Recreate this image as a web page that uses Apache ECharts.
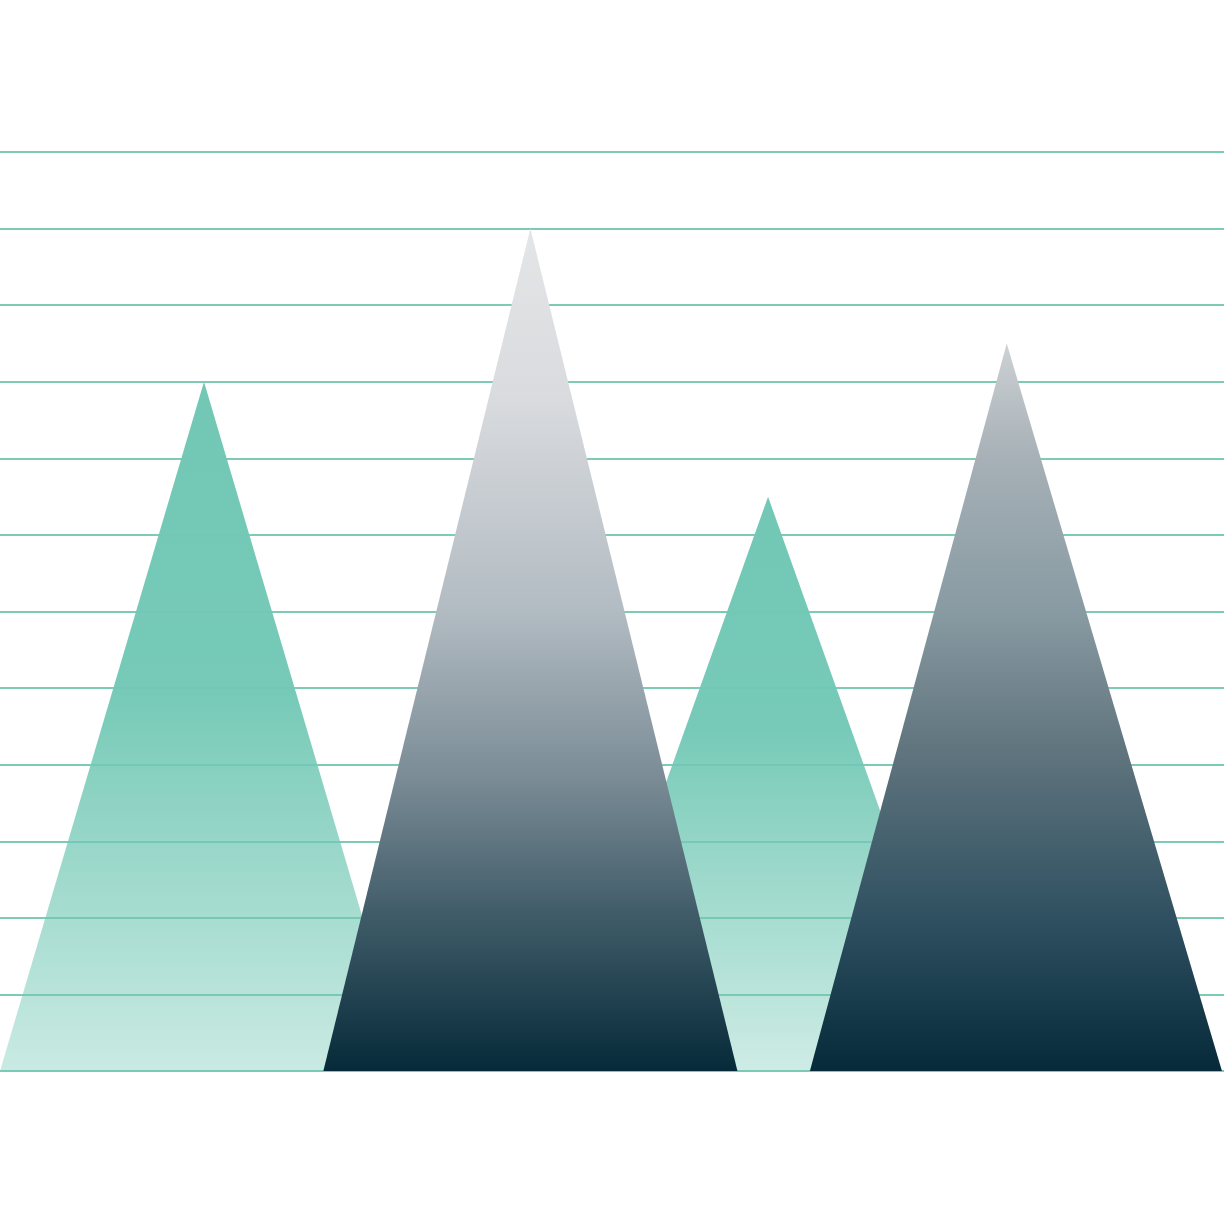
<!DOCTYPE html>
<html>
<head>
<meta charset="utf-8">
<script src="https://cdn.jsdelivr.net/npm/echarts@6/dist/echarts.min.js"></script>
<style>
html,body{margin:0;padding:0;background:#fff;}
#main{width:1224px;height:1224px;}
</style>
</head>
<body>
<div id="main"></div>
<script>
// Data (x in chart units 0..12, y in value units 0..12)
const peakNames = ['A', 'B', 'C', 'D'];
const baseLeft  = [0.0, 3.17, 5.52, 7.94];
const peakX     = [2.0, 5.20, 7.53, 9.87];
const baseRight = [4.0, 7.23, 9.54, 11.98];
const heights   = [9.0, 11.0, 7.5, 9.5];
const kinds     = ['teal', 'dark', 'teal', 'dark'];

// Styles (kept separate from data)
const fills = {
  A: new echarts.graphic.LinearGradient(0, 0, 0, 1, [
    { offset: 0, color: 'rgba(114,200,181,1)' },
    { offset: 0.45, color: 'rgba(114,200,181,0.97)' },
    { offset: 1, color: 'rgba(114,200,181,0.38)' }
  ]),
  C: new echarts.graphic.LinearGradient(0, 0, 0, 1, [
    { offset: 0, color: 'rgba(114,200,181,1)' },
    { offset: 0.4, color: 'rgba(114,200,181,0.97)' },
    { offset: 1, color: 'rgba(114,200,181,0.35)' }
  ]),
  B: new echarts.graphic.LinearGradient(0, 0, 0, 1, [
    { offset: 0, color: '#e4e5e7' },
    { offset: 0.2, color: '#d9dbde' },
    { offset: 0.45, color: '#b3bcc3' },
    { offset: 0.65, color: '#7b8c96' },
    { offset: 0.82, color: '#3e5a67' },
    { offset: 1, color: '#062a39' }
  ]),
  D: new echarts.graphic.LinearGradient(0, 0, 0, 1, [
    { offset: 0, color: '#cdd1d4' },
    { offset: 0.16, color: '#a6b0b6' },
    { offset: 0.37, color: '#889aa2' },
    { offset: 0.55, color: '#62767f' },
    { offset: 0.79, color: '#2f5061' },
    { offset: 1, color: '#062a39' }
  ])
};

function buildData(kind) {
  const out = [];
  for (let i = 0; i < peakNames.length; i++) {
    if (kinds[i] === kind) out.push({ name: peakNames[i], value: [baseLeft[i], peakX[i], baseRight[i], heights[i]] });
  }
  return out;
}

function renderTri(params, api) {
  const l = api.coord([api.value(0), 0]);
  const p = api.coord([api.value(1), api.value(3)]);
  const r = api.coord([api.value(2), 0]);
  const seriesData = params.seriesIndex === 0 ? tealData : darkData;
  const nm = seriesData[params.dataIndex].name;
  return {
    type: 'polygon',
    shape: { points: [l, p, r] },
    style: { fill: fills[nm] }
  };
}

const tealData = buildData('teal');
const darkData = buildData('dark');

const chart = echarts.init(document.getElementById('main'), null, { renderer: 'canvas' });
chart.setOption({
  animation: false,
  backgroundColor: '#ffffff',
  grid: { left: 0, right: 0, top: 152, bottom: 153, containLabel: false },
  xAxis: {
    type: 'value', min: 0, max: 12,
    axisLine: { show: false }, axisTick: { show: false },
    axisLabel: { show: false }, splitLine: { show: false }
  },
  yAxis: {
    type: 'value', min: 0, max: 12, interval: 1,
    axisLine: { show: false }, axisTick: { show: false },
    axisLabel: { show: false },
    splitLine: { show: true, lineStyle: { color: '#7dcab5', width: 2 } }
  },
  series: [
    {
      type: 'custom', name: 'teal', z: 2,
      renderItem: renderTri,
      encode: { x: [0, 1, 2], y: 3 },
      data: tealData
    },
    {
      type: 'custom', name: 'dark', z: 3,
      renderItem: renderTri,
      encode: { x: [0, 1, 2], y: 3 },
      data: darkData
    }
  ]
});
</script>
</body>
</html>
